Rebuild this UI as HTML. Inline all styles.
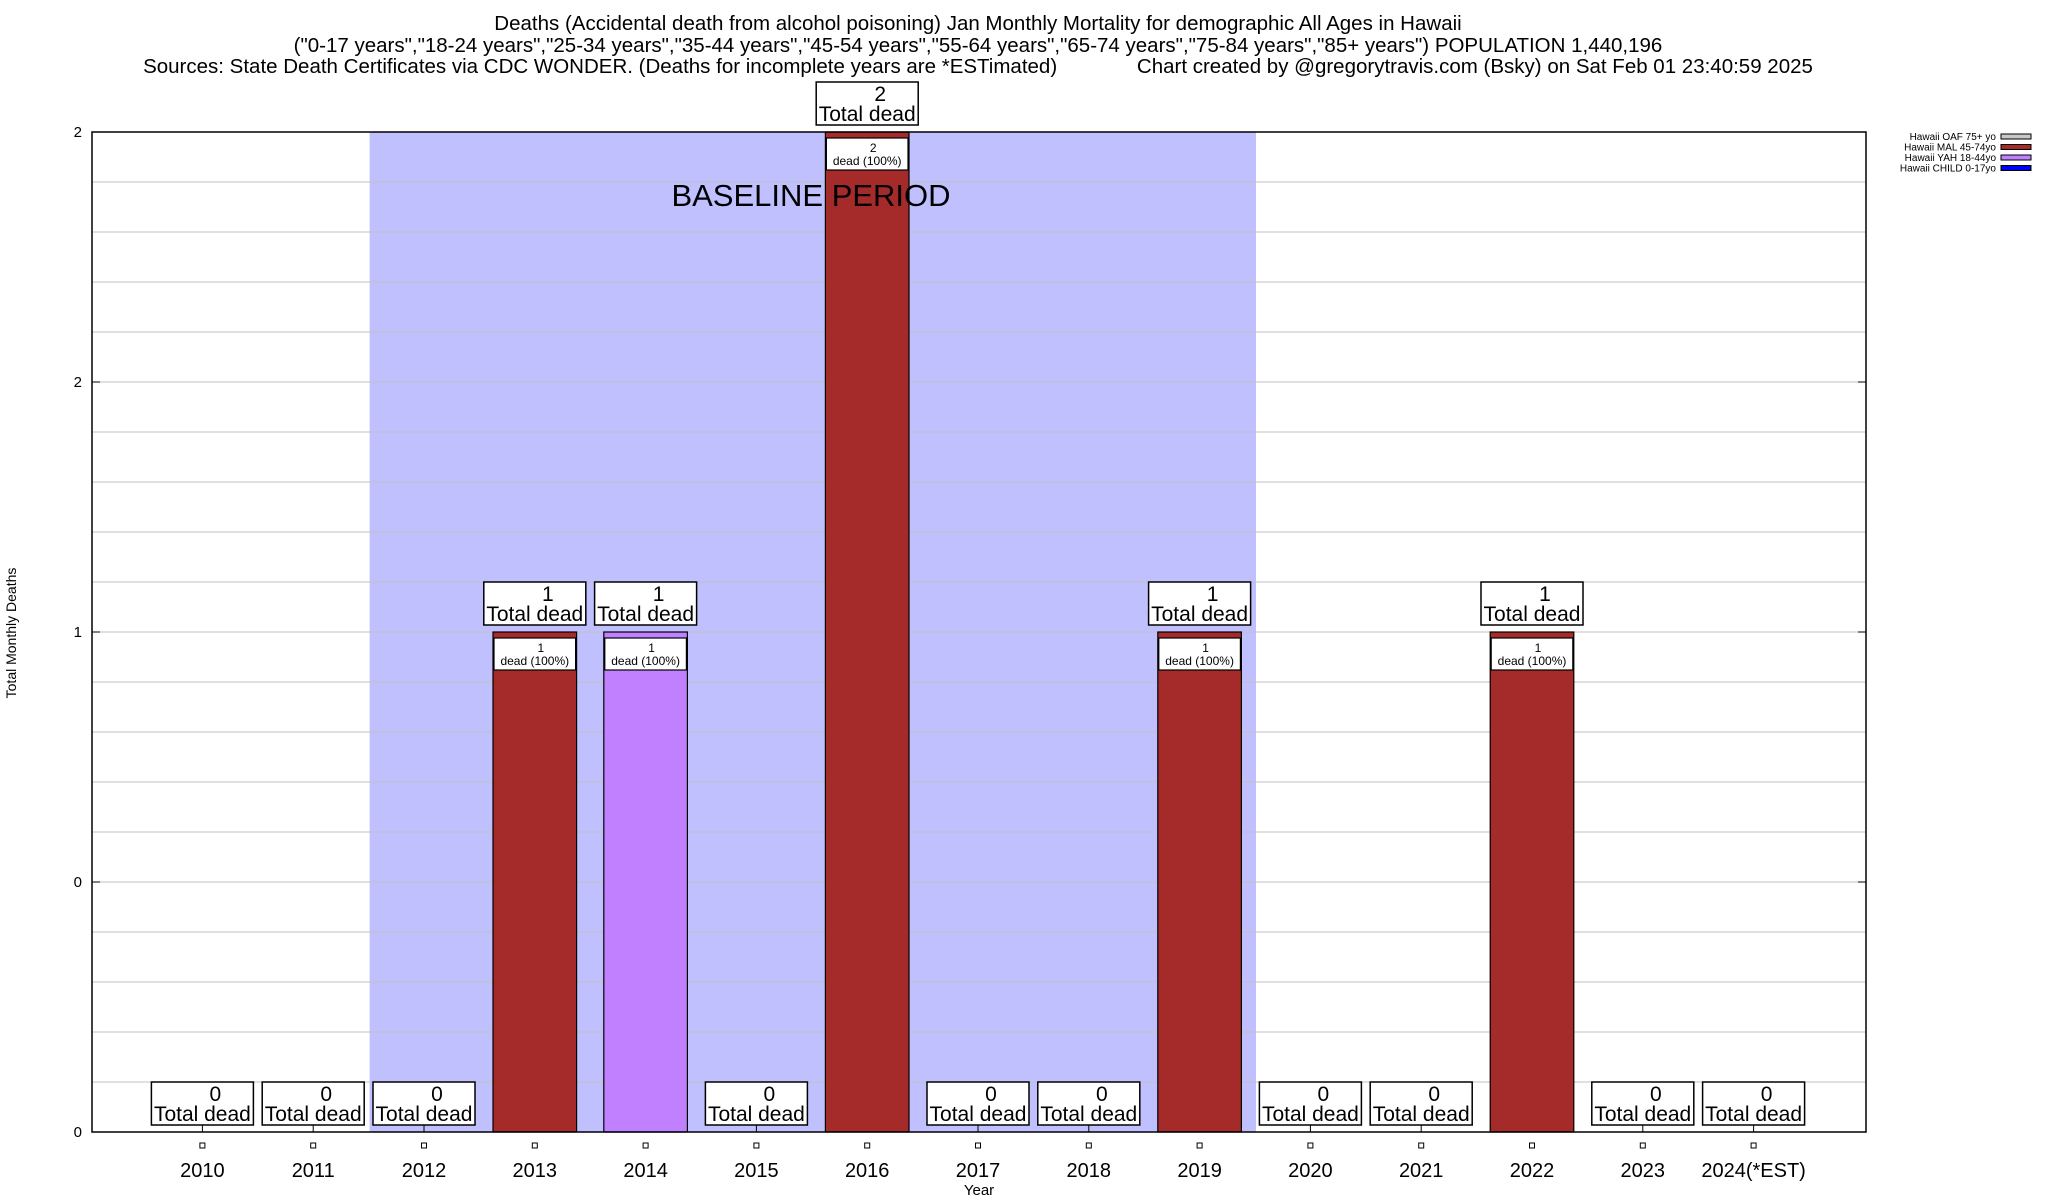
<!DOCTYPE html>
<html><head><meta charset="utf-8">
<style>
html,body{margin:0;padding:0;background:#fff;}
svg{display:block;font-family:"Liberation Sans",sans-serif;}
</style></head>
<body>
<svg id="chart" width="2048" height="1200" viewBox="0 0 2048 1200" xmlns="http://www.w3.org/2000/svg">
<g font-size="20.5" text-anchor="middle" fill="#000">
<text x="978" y="30">Deaths (Accidental death from alcohol poisoning) Jan Monthly Mortality for demographic All Ages in Hawaii</text>
<text x="978" y="52">("0-17 years","18-24 years","25-34 years","35-44 years","45-54 years","55-64 years","65-74 years","75-84 years","85+ years") POPULATION 1,440,196</text>
<text x="978" y="73" xml:space="preserve">Sources: State Death Certificates via CDC WONDER. (Deaths for incomplete years are *ESTimated)              Chart created by @gregorytravis.com (Bsky) on Sat Feb 01 23:40:59 2025</text>
</g>
<g id="plot"></g>
<text x="16" y="633" font-size="14" text-anchor="middle" transform="rotate(-90 16 633)">Total Monthly Deaths</text>
<text x="979" y="1195" font-size="15" text-anchor="middle">Year</text>
<g font-size="10" text-anchor="end">
<text x="1996" y="140">Hawaii OAF 75+ yo</text><rect x="2001" y="134" width="30" height="5" fill="#c8c8c8" stroke="#000"/>
<text x="1996" y="150.5">Hawaii MAL 45-74yo</text><rect x="2001" y="144.5" width="30" height="5" fill="#a52a2a" stroke="#000"/>
<text x="1996" y="161">Hawaii YAH 18-44yo</text><rect x="2001" y="155" width="30" height="5" fill="#c080ff" stroke="#000"/>
<text x="1996" y="171.5">Hawaii CHILD 0-17yo</text><rect x="2001" y="165.5" width="30" height="5" fill="#0000ff" stroke="#000"/>
</g>
</svg>
<script>
const categories = ["2010","2011","2012","2013","2014","2015","2016","2017","2018","2019","2020","2021","2022","2023","2024(*EST)"];
const malValues = [0,0,0,1,0,0,2,0,0,1,0,0,1,0,0];
const yahValues = [0,0,0,0,1,0,0,0,0,0,0,0,0,0,0];
const yTickValues = [0,0.5,1,1.5,2];
const yTickLabels = ["0","0","1","2","2"];
const baselineRange = ["2012","2019"];

const NS="http://www.w3.org/2000/svg";
const g=document.getElementById('plot');
const L=92,R=1866,T=132,B=1132,ymax=2;
const step=110.8, x0=202.4, bw=83.6;
const xS=i=>x0+i*step;
const yS=v=>B-(v/ymax)*(B-T);
function mk(tag,attrs,parent){const e=document.createElementNS(NS,tag);for(const k in attrs)e.setAttribute(k,attrs[k]);(parent||g).appendChild(e);return e;}

const bs=mk('rect',{x:xS(categories.indexOf(baselineRange[0]))-step/2+1,y:T,width:(categories.indexOf(baselineRange[1])-categories.indexOf(baselineRange[0])+1)*step,height:B-T,fill:'#c0c0ff'});



for(let k=1;k<20;k++){const v=k*0.1;const ln=mk('line',{x1:L,x2:R,y1:yS(v),y2:yS(v),stroke:'#c0c0c0','stroke-width':1});

}
yTickValues.forEach((v,i)=>{
 mk('line',{x1:L,x2:L+8,y1:yS(v),y2:yS(v),stroke:'#000'});
 mk('line',{x1:R-8,x2:R,y1:yS(v),y2:yS(v),stroke:'#000'});
 const t=mk('text',{x:82,y:yS(v)+5,'font-size':15,'text-anchor':'end'});t.textContent=yTickLabels[i];
 
 
});

categories.forEach((c,i)=>{
 const cx=xS(i);
 const total=malValues[i]+yahValues[i];
 let base=0;
 [[malValues,'#a52a2a','bar-mal'],[yahValues,'#c080ff','bar-yah']].forEach(([arr,col,nm])=>{
  const v=arr[i]; if(v<=0)return;
  const r=mk('rect',{x:cx-bw/2,y:yS(base+v),width:bw,height:yS(base)-yS(base+v),fill:col,stroke:'#000','stroke-width':1.2});
  
  
  const by=yS(base+v);
  mk('rect',{x:cx-bw/2+1,y:by+6,width:bw-2,height:32,fill:'#fff',stroke:'#000','stroke-width':1.2});
  const t1=mk('text',{x:cx+6,y:by+20,'font-size':12,'text-anchor':'middle'});t1.textContent=String(v);
  const t2=mk('text',{x:cx,y:by+33,'font-size':12,'text-anchor':'middle'});t2.textContent='dead ('+Math.round(v/total*100)+'%)';
  
  
  base+=v;
 });
 const ty=yS(total);
 const bx=mk('rect',{x:cx-51,y:ty-50,width:102,height:43,fill:'#fff',stroke:'#000','stroke-width':1.5});
 
 
 const a=mk('text',{x:cx+13,y:ty-31,'font-size':21,'text-anchor':'middle'});a.textContent=String(total);
 const b=mk('text',{x:cx,y:ty-11,'font-size':21,'text-anchor':'middle'});b.textContent='Total dead';
 if(total===0) mk('line',{x1:cx,x2:cx,y1:B-7,y2:B,stroke:'#000'});
 mk('rect',{x:cx-2.5,y:1143,width:5,height:5,fill:'none',stroke:'#000','stroke-width':1});
 const xl=mk('text',{x:cx,y:1177,'font-size':20,'text-anchor':'middle'});xl.textContent=c;
 
 
});

const bt=mk('text',{x:811,y:206,'font-size':31,'text-anchor':'middle'});bt.textContent='BASELINE PERIOD';



const fr=mk('rect',{x:L,y:T,width:R-L,height:B-T,fill:'none',stroke:'#000','stroke-width':1.5});


</script>
</body></html>
